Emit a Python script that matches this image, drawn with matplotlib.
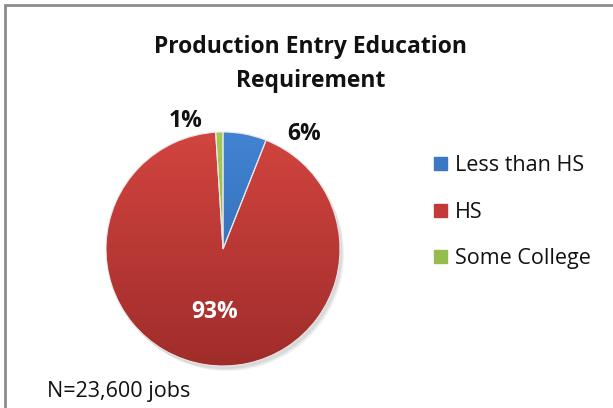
import numpy as np
import matplotlib.pyplot as plt
from matplotlib.colors import LinearSegmentedColormap
from matplotlib.patches import Rectangle

# data
categories = ['Less than HS', 'HS', 'Some College']
shares = [6, 93, 1]
top_colors = ['#4183D2', '#D2443F', '#A3CA55']
bottom_colors = ['#2F63A8', '#A02D2B', '#86A843']
legend_colors = ['#3A78C4', '#C23B38', '#95BD4E']
title_lines = ['Production Entry Education', 'Requirement']
note = 'N=23,600 jobs'

W, H = 613, 408
fig = plt.figure(figsize=(W / 100, H / 100), dpi=100)
ax = fig.add_axes([0, 0, 1, 1])

cx, cy, r = 223, H - 249, 117

wedges, _ = ax.pie(shares, center=(cx, cy), radius=r, startangle=90,
                   counterclock=False, colors=legend_colors,
                   wedgeprops=dict(edgecolor='#e8e8e8', linewidth=0.8),
                   frame=True)
ax.set_xlim(0, W)
ax.set_ylim(0, H)
ax.set_aspect('auto')
ax.axis('off')

# chart frame (cut off on right / bottom like the screenshot)
ax.add_patch(Rectangle((5, -20), W + 40, H - 5 + 20, fill=False,
                       ec='#8c8c8c', lw=2, zorder=0))

# soft shadow
for k in range(3):
    sh = plt.Circle((cx + 2 + k, cy - 3 - k), r, color='black', alpha=0.05, lw=0, zorder=1)
    ax.add_patch(sh)

# vertical gradient fill in each slice
grad = np.linspace(1, 0, 256).reshape(-1, 1)
for w, c_top, c_bot in zip(wedges, top_colors, bottom_colors):
    cmap = LinearSegmentedColormap.from_list('g', [c_bot, c_top])
    im = ax.imshow(grad, cmap=cmap, extent=(cx - r, cx + r, cy - r, cy + r),
                   origin='upper', aspect='auto', zorder=2, vmin=0, vmax=1)
    im.set_clip_path(w)
    w.set_zorder(3)
    w.set_facecolor('none')
ax.set_xlim(0, W)
ax.set_ylim(0, H)

# percentage labels
lab_kw = dict(fontsize=16.5, fontweight='bold', family='Open Sans',
              ha='center', va='baseline')
ax.text(304, H - 140, f'{shares[0]}%', color='#111111', **lab_kw)
ax.text(186, H - 127, f'{shares[2]}%', color='#111111', **lab_kw)
ax.text(215, H - 318, f'{shares[1]}%', color='white', zorder=5, **lab_kw)

# title
for line, base in zip(title_lines, [53, 87]):
    ax.text(311, H - base, line, fontsize=16.5, fontweight='bold', family='Open Sans',
            ha='center', va='baseline', color='#111111')

ax.text(47, H - 397, note, fontsize=15.5, family='Open Sans',
        ha='left', va='baseline', color='#111111')

# legend
for i, (lab, col) in enumerate(zip(categories, legend_colors)):
    base = 171 + i * 46.5
    ax.add_patch(Rectangle((434, H - base + 1), 13, 13, color=col, zorder=4))
    ax.text(455, H - base, lab, fontsize=15.5, family='Open Sans', ha='left',
            va='baseline', color='#111111')

fig.savefig('out.png', dpi=100)
